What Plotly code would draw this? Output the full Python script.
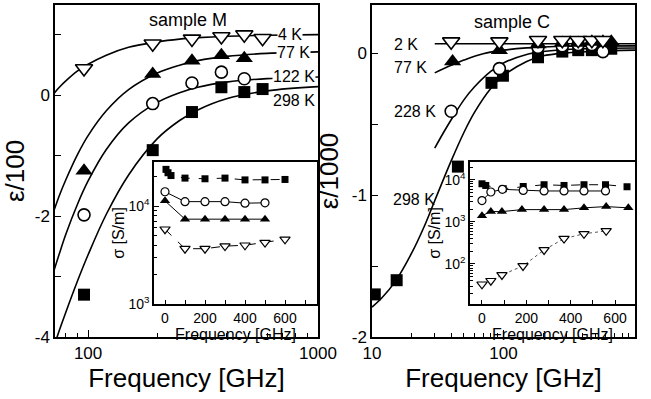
import plotly.graph_objects as go

# ---------------- sample M (left main) ----------------
freq_M = [96, 191, 283, 380, 478, 574]
epsM_4K = [0.44, 0.85, 0.93, 0.97, 1.00, 0.94]
epsM_77K = [-1.25, 0.35, 0.57, 0.66, 0.61]
epsM_122K = [-1.98, -0.14, 0.20, 0.38, 0.27]
epsM_298K = [-3.30, -0.91, -0.28, 0.13, 0.05, 0.10]

fitM_freq = [70, 75, 80, 90, 100, 120, 150, 200, 250, 300, 400, 600, 1000]
fitM_4K = [0.0, 0.13, 0.235, 0.40, 0.51, 0.66, 0.79, 0.88, 0.926, 0.95, 0.974, 0.99, 1.0]
fitM_77K = [-1.98, -1.66, -1.40, -0.98, -0.67, -0.26, 0.09, 0.365, 0.495, 0.57, 0.64, 0.69, 0.715]
fitM_122K = [-2.98, -2.62, -2.30, -1.80, -1.42, -0.90, -0.46, -0.12, 0.04, 0.13, 0.215, 0.273, 0.30]
fitM_298K = [-4.22, -3.89, -3.59, -3.07, -2.64, -1.97, -1.32, -0.72, -0.42, -0.245, -0.06, 0.07, 0.14]

# ---------------- sample C (right main) ----------------
freqC_2K = [40, 93, 183, 280, 370, 470, 570]
epsC_2K = [0.08, 0.08, 0.09, 0.09, 0.09, 0.09, 0.09]
freqC_77K = [41, 93, 183, 280, 370, 470, 570, 660]
epsC_77K = [-0.06, 0.02, 0.06, 0.07, 0.07, 0.08, 0.08, 0.08]
freqC_228K = [40, 93, 183, 280, 370, 470, 570]
epsC_228K = [-0.41, -0.11, 0.04, 0.05, 0.06, 0.06, 0.01]
freqC_298K = [10.5, 15.4, 45, 81, 99, 183, 280, 370, 470, 570, 660]
epsC_298K = [-1.70, -1.60, -0.80, -0.21, -0.16, -0.03, 0.01, 0.02, 0.02, 0.03, 0.03]

fitC_298K_f = [10, 12, 15, 20, 25, 30, 40, 50, 60, 80, 100, 150, 200, 300, 500, 1000]
fitC_298K = [-1.79, -1.72, -1.61, -1.41, -1.22, -1.04, -0.76, -0.56, -0.42, -0.25, -0.16, -0.06, -0.02, 0.0, 0.012, 0.02]
fitC_228K_f = [30, 35, 40, 50, 60, 80, 100, 150, 200, 300, 500, 1000]
fitC_228K = [-0.67, -0.56, -0.47, -0.33, -0.24, -0.13, -0.07, -0.01, 0.01, 0.025, 0.032, 0.035]
fitC_77K_f = [30, 40, 50, 70, 100, 150, 200, 300, 1000]
fitC_77K = [-0.14, -0.087, -0.05, -0.005, 0.02, 0.036, 0.042, 0.047, 0.05]
fitC_2K_f = [30, 1000]
fitC_2K = [0.065, 0.065]

# ---------------- insets: conductivity ----------------
sM_sq_f = [5, 15, 30, 100, 200, 300, 400, 500, 600]
sM_sq = [23700, 21900, 20500, 19300, 19000, 19300, 18500, 18500, 18700]
sM_ci_f = [0, 100, 200, 300, 400, 500]
sM_ci = [14000, 11100, 11100, 11100, 10700, 10800]
sM_tu_f = [0, 100, 200, 300, 400, 500]
sM_tu = [11300, 7350, 7350, 7350, 7350, 7350]
sM_td_f = [0, 100, 200, 300, 400, 500, 600]
sM_td = [5800, 3670, 3670, 3900, 3980, 4240, 4570]

sC_sq_f = [0, 17, 96, 186, 280, 370, 460, 557, 654]
sC_sq = [8000, 7300, 6100, 6900, 7600, 7300, 7600, 7600, 6800]
sC_ci_f = [0, 40, 92, 186, 280, 370, 460, 557]
sC_ci = [3200, 5100, 5900, 5550, 5400, 5400, 5400, 5400]
sC_tu_f = [0, 40, 90, 180, 280, 370, 460, 560, 660]
sC_tu = [1400, 1750, 1750, 1950, 1950, 1950, 2150, 2300, 2150]
sC_td_f = [0, 40, 90, 185, 280, 370, 460, 560]
sC_td = [33, 40, 55, 90, 215, 400, 520, 610]

FONT = "Liberation Sans, Arial, sans-serif"
W, H = 651, 399


def px_x(a, b):
    return [a / W, b / W]


def px_y(top, bottom):
    return [1 - bottom / H, 1 - top / H]


fig = go.Figure()


def mk(sym, filled, size, lw=1.6):
    if filled:
        return dict(symbol=sym, size=size, color="black", line=dict(color="black", width=0))
    return dict(symbol=sym, size=size, color="white", line=dict(color="black", width=lw))


# left main curves
for y in [fitM_4K, fitM_77K, fitM_122K, fitM_298K]:
    fig.add_trace(go.Scatter(x=fitM_freq, y=y, mode="lines", line=dict(color="black", width=1.6, shape="spline"),
                             xaxis="x", yaxis="y", showlegend=False, hoverinfo="skip"))
fig.add_trace(go.Scatter(x=freq_M, y=epsM_4K, mode="markers", marker=mk("triangle-down", False, 15), xaxis="x", yaxis="y", showlegend=False))
fig.add_trace(go.Scatter(x=freq_M[:5], y=epsM_77K, mode="markers", marker=mk("triangle-up", True, 15), xaxis="x", yaxis="y", showlegend=False))
fig.add_trace(go.Scatter(x=freq_M[:5], y=epsM_122K, mode="markers", marker=mk("circle", False, 12), xaxis="x", yaxis="y", showlegend=False))
fig.add_trace(go.Scatter(x=freq_M, y=epsM_298K, mode="markers", marker=mk("square", True, 12), xaxis="x", yaxis="y", showlegend=False))

# right main curves
for fx, y in [(fitC_2K_f, fitC_2K), (fitC_77K_f, fitC_77K), (fitC_228K_f, fitC_228K), (fitC_298K_f, fitC_298K)]:
    fig.add_trace(go.Scatter(x=fx, y=y, mode="lines", line=dict(color="black", width=1.6, shape="spline"),
                             xaxis="x2", yaxis="y2", showlegend=False, hoverinfo="skip"))
fig.add_trace(go.Scatter(x=freqC_298K, y=epsC_298K, mode="markers", marker=mk("square", True, 12), xaxis="x2", yaxis="y2", showlegend=False))
fig.add_trace(go.Scatter(x=freqC_228K, y=epsC_228K, mode="markers", marker=mk("circle", False, 12), xaxis="x2", yaxis="y2", showlegend=False))
fig.add_trace(go.Scatter(x=freqC_77K, y=epsC_77K, mode="markers", marker=mk("triangle-up", True, 15), xaxis="x2", yaxis="y2", showlegend=False))
fig.add_trace(go.Scatter(x=freqC_2K, y=epsC_2K, mode="markers", marker=mk("triangle-down", False, 15), xaxis="x2", yaxis="y2", showlegend=False))

# left inset
ln = dict(color="black", width=1)
fig.add_trace(go.Scatter(x=sM_sq_f, y=sM_sq, mode="lines+markers", line=dict(color="black", width=1, dash="dash"), marker=mk("square", True, 7), xaxis="x3", yaxis="y3", showlegend=False))
fig.add_trace(go.Scatter(x=sM_ci_f, y=sM_ci, mode="lines+markers", line=ln, marker=mk("circle", False, 8, 1.2), xaxis="x3", yaxis="y3", showlegend=False))
fig.add_trace(go.Scatter(x=sM_tu_f, y=sM_tu, mode="lines+markers", line=ln, marker=mk("triangle-up", True, 9), xaxis="x3", yaxis="y3", showlegend=False))
fig.add_trace(go.Scatter(x=sM_td_f, y=sM_td, mode="lines+markers", line=dict(color="black", width=1, dash="dash"), marker=mk("triangle-down", False, 9, 1.2), xaxis="x3", yaxis="y3", showlegend=False))

# right inset
fig.add_trace(go.Scatter(x=sC_sq_f, y=sC_sq, mode="lines+markers", line=dict(color="black", width=1, dash="dash"), marker=mk("square", True, 7), xaxis="x4", yaxis="y4", showlegend=False))
fig.add_trace(go.Scatter(x=sC_ci_f, y=sC_ci, mode="lines+markers", line=ln, marker=mk("circle", False, 8, 1.2), xaxis="x4", yaxis="y4", showlegend=False))
fig.add_trace(go.Scatter(x=sC_tu_f, y=sC_tu, mode="lines+markers", line=ln, marker=mk("triangle-up", True, 9), xaxis="x4", yaxis="y4", showlegend=False))
fig.add_trace(go.Scatter(x=sC_td_f, y=sC_td, mode="lines+markers", line=dict(color="#555", width=1, dash="dot"), marker=mk("triangle-down", False, 9, 1.2), xaxis="x4", yaxis="y4", showlegend=False))

axcommon = dict(showline=True, linecolor="black", linewidth=1.5, mirror=True, ticks="inside",
                tickcolor="black", showgrid=False, zeroline=False, automargin=False,
                tickfont=dict(family=FONT, size=17, color="black"))

fig.update_layout(
    width=W, height=H, margin=dict(l=0, r=0, t=0, b=0),
    paper_bgcolor="white", plot_bgcolor="white", template="none", showlegend=False,
    font=dict(family=FONT, color="black"),
    xaxis=dict(axcommon, type="log", domain=px_x(55, 318), anchor="y", range=[1.856, 3.0],
               tickvals=[100, 1000], ticktext=["100", "1000"], ticklen=7,
               minor=dict(tickvals=[80, 90, 200, 300, 400, 500, 600, 700, 800, 900], ticklen=4, ticks="inside", tickcolor="black"),
               title=dict(text="Frequency [GHz]", font=dict(size=26, family=FONT), standoff=6)),
    yaxis=dict(axcommon, domain=px_y(5, 337), anchor="x", range=[-4, 1.49],
               tickvals=[-4, -3, -2, -1, 0, 1], ticktext=["-4", "", "-2", "", "0", ""], ticklen=6,
               title=dict(text="ε/100", font=dict(size=26, family=FONT), standoff=6)),
    xaxis2=dict(axcommon, type="log", domain=px_x(372, 635), anchor="y2", range=[1.0, 3.0],
                tickvals=[10, 100, 1000], ticktext=["10", "100", "1000"], ticklen=7,
                minor=dict(tickvals=[20, 30, 40, 50, 60, 70, 80, 90, 200, 300, 400, 500, 600, 700, 800, 900], ticklen=4, ticks="inside", tickcolor="black"),
                title=dict(text="Frequency [GHz]", font=dict(size=26, family=FONT), standoff=6)),
    yaxis2=dict(axcommon, domain=px_y(5, 337), anchor="x2", range=[-2, 0.338],
                tickvals=[-2, -1.5, -1, -0.5, 0], ticktext=["-2", "", "-1", "", "0"], ticklen=6,
                title=dict(text="ε/1000", font=dict(size=26, family=FONT), standoff=6)),
    xaxis3=dict(axcommon, domain=px_x(154, 317), anchor="y3", range=[-55, 760],
                tickvals=[0, 100, 200, 300, 400, 500, 600, 700], ticktext=["0", "", "200", "", "400", "", "600", ""], ticklen=4,
                tickfont=dict(family=FONT, size=14, color="black"),
                title=dict(text="Frequency [GHz]", font=dict(size=16, family=FONT), standoff=0)),
    yaxis3=dict(axcommon, type="log", domain=px_y(162, 304), anchor="x3", range=[3.0, 4.45],
                tickvals=[1000, 10000], ticktext=["10<sup>3</sup>", "10<sup>4</sup>"], ticklen=5,
                minor=dict(tickvals=[2000, 3000, 4000, 5000, 6000, 7000, 8000, 9000, 20000], ticklen=3, ticks="inside", tickcolor="black"),
                tickfont=dict(family=FONT, size=14, color="black"),
                title=dict(text="σ [S/m]", font=dict(size=16, family=FONT), standoff=0)),
    xaxis4=dict(axcommon, domain=px_x(470, 635), anchor="y4", range=[-54, 690],
                tickvals=[0, 100, 200, 300, 400, 500, 600], ticktext=["0", "", "200", "", "400", "", "600"], ticklen=4,
                tickfont=dict(family=FONT, size=14, color="black"),
                title=dict(text="Frequency [GHz]", font=dict(size=16, family=FONT), standoff=0)),
    yaxis4=dict(axcommon, type="log", domain=px_y(162, 304), anchor="x4", range=[1.05, 4.42],
                tickvals=[10, 100, 1000, 10000], ticktext=["10<sup>1</sup>", "10<sup>2</sup>", "10<sup>3</sup>", "10<sup>4</sup>"], ticklen=5,
                minor=dict(tickvals=[20, 30, 40, 50, 60, 70, 80, 90, 200, 300, 400, 500, 600, 700, 800, 900,
                                     2000, 3000, 4000, 5000, 6000, 7000, 8000, 9000, 20000], ticklen=3, ticks="inside", tickcolor="black"),
                tickfont=dict(family=FONT, size=14, color="black"),
                title=dict(text="σ [S/m]", font=dict(size=16, family=FONT), standoff=0)),
)


def lab(text, xp, yp, anchor="center", bg=None, size=16):
    d = dict(text=text, x=xp / W, y=1 - yp / H, xref="paper", yref="paper", showarrow=False,
             font=dict(family=FONT, size=size, color="black"), xanchor=anchor, yanchor="middle", borderpad=0)
    if bg:
        d["bgcolor"] = bg
    return d


annotations = [
    lab("sample M", 188, 20, size=18),
    lab("sample C", 512, 22, size=18),
    lab("4 K", 290, 34, bg="white"),
    lab("77 K", 293, 53, bg="white"),
    lab("122 K", 294, 77, bg="white"),
    lab("298 K", 294, 100),
    lab("2 K", 393, 45, anchor="left", bg="white"),
    lab("77 K", 393, 67, anchor="left"),
    lab("228 K", 393, 111, anchor="left"),
    lab("298 K", 392, 199, anchor="left"),
]
fig.update_layout(annotations=annotations)

fig.write_html("out.html")
